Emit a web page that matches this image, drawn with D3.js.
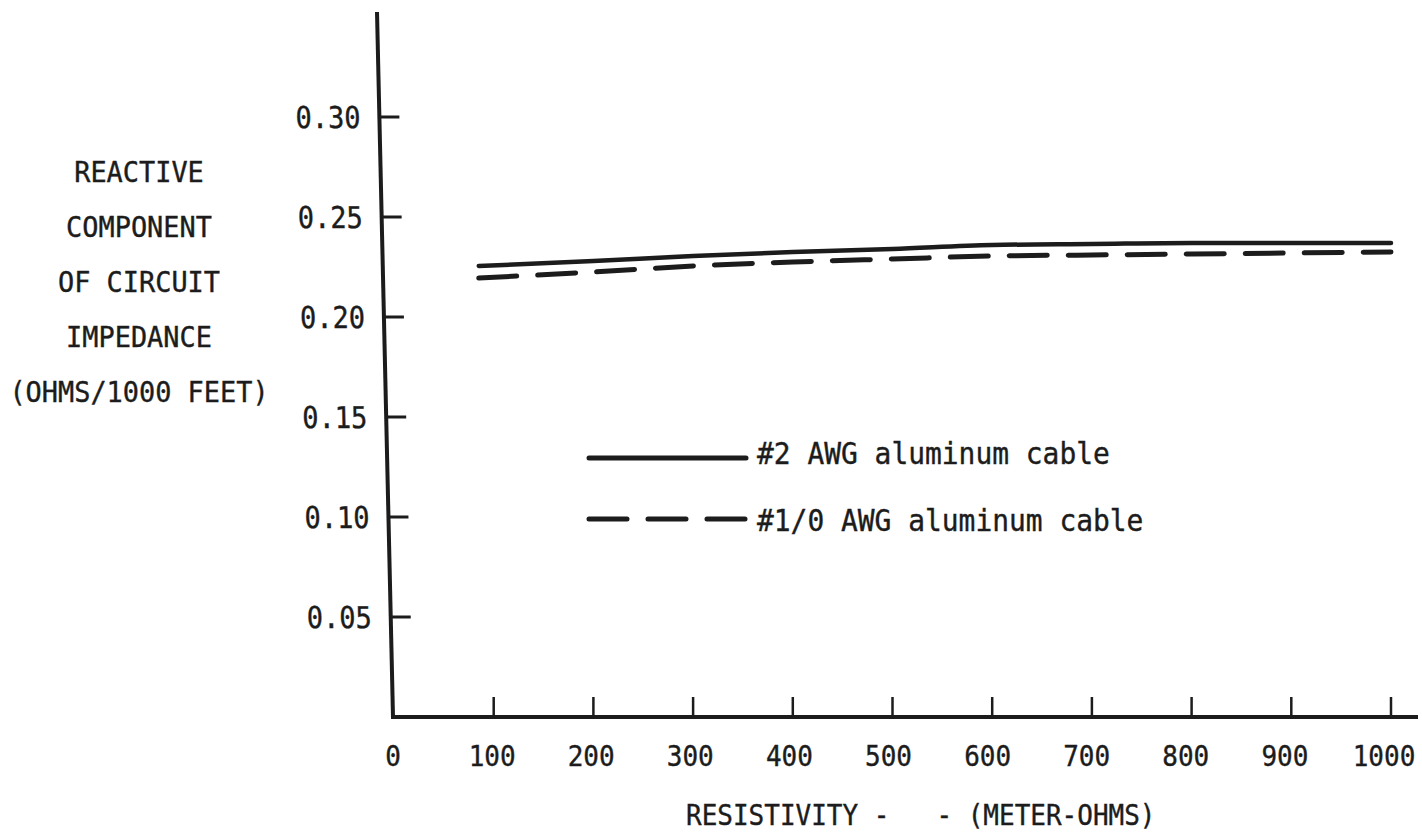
<!DOCTYPE html>
<html>
<head>
<meta charset="utf-8">
<script src="https://cdn.jsdelivr.net/npm/d3@7"></script>
<style>
body { margin: 0; background: #fff; }
text { font-family: "DejaVu Sans Mono", monospace; fill: #1c1c1c; stroke: #1c1c1c; stroke-width: 0.4; }
</style>
</head>
<body>
<div id="container"></div>
<script>
// values
let resistivity = [85, 200, 300, 400, 500, 600, 700, 800, 900, 1000];
let awg2 = [0.2255, 0.228, 0.2305, 0.2325, 0.234, 0.236, 0.2365, 0.237, 0.237, 0.237];
let awg10 = [0.2195, 0.2225, 0.2255, 0.2275, 0.229, 0.2305, 0.231, 0.2315, 0.232, 0.2325];

let xTicks = [0, 100, 200, 300, 400, 500, 600, 700, 800, 900, 1000];
let yTicks = [0.05, 0.10, 0.15, 0.20, 0.25, 0.30];
let yTitle = ["REACTIVE", "COMPONENT", "OF CIRCUIT", "IMPEDANCE", "(OHMS/1000 FEET)"];
let xTitle = "RESISTIVITY -   - (METER-OHMS)";
let seriesNames = ["#2 AWG aluminum cable", "#1/0 AWG aluminum cable"];

const width = 1422;
const height = 835;
const ink = "#1c1c1c";

let svg = d3.select("#container").append("svg")
	.attr("width", width)
	.attr("height", height);

// typewriter text is taller than it is wide, squeeze the mono font to the cell width
function typed(sel, size, cell){
	sel.attr("font-size", size)
		.attr("textLength", d => String(d).length * cell)
		.attr("lengthAdjust", "spacingAndGlyphs");
}

let x = d3.scaleLinear().domain([0, 1000]).range([394, 1391]);
// typed labels sit a touch left of their ticks
let xLabel = d3.scaleLinear().domain([0, 1000]).range([393, 1384]);
let y = d3.scaleLinear().domain([0, 0.30]).range([717, 117]);

// the scan leans a little, so the y axis is skewed about the origin
let yAxis = svg.append("g")
	.attr("transform", "translate(393,717) skewX(1.3) translate(0,-717)");

yAxis.append("line")
	.attr("x1", 0).attr("x2", 0)
	.attr("y1", y(0.3525)).attr("y2", y(0) + 2)
	.attr("stroke", ink).attr("stroke-width", 4);

yAxis.selectAll(".ytick").data(yTicks).join("line")
	.attr("x1", 0).attr("x2", 20)
	.attr("y1", d => y(d)).attr("y2", d => y(d))
	.attr("stroke", ink).attr("stroke-width", 3);

yAxis.selectAll(".ylab").data(yTicks.map(d3.format(".2f"))).join("text")
	.attr("x", -19)
	.attr("y", (d, i) => y(yTicks[i]))
	.attr("dy", "0.36em")
	.attr("text-anchor", "end")
	.text(d => d)
	.call(typed, 30, 16.25);

// x axis
svg.append("line")
	.attr("x1", 391).attr("x2", 1418)
	.attr("y1", y(0)).attr("y2", y(0))
	.attr("stroke", ink).attr("stroke-width", 4);

svg.selectAll(".xtick").data(xTicks.slice(1)).join("line")
	.attr("x1", d => x(d)).attr("x2", d => x(d))
	.attr("y1", y(0)).attr("y2", y(0) - 20)
	.attr("stroke", ink).attr("stroke-width", 2.5);

svg.selectAll(".xlab").data(xTicks).join("text")
	.attr("x", d => xLabel(d))
	.attr("y", 756)
	.attr("dy", "0.36em")
	.attr("text-anchor", "middle")
	.text(d => d)
	.call(typed, 29, 15.65);

svg.selectAll(".xtitle").data([xTitle]).join("text")
	.attr("x", 686)
	.attr("y", 815)
	.attr("dy", "0.36em")
	.style("white-space", "pre")
	.text(d => d)
	.call(typed, 29, 15.65);

svg.selectAll(".ytitle").data(yTitle).join("text")
	.attr("x", 139)
	.attr("y", (d, i) => 172 + i * 55)
	.attr("dy", "0.36em")
	.attr("text-anchor", "middle")
	.text(d => d)
	.call(typed, 29, 16.2);

// the two cable curves
let line = d3.line()
	.x((d, i) => x(resistivity[i]))
	.y(d => y(d))
	.curve(d3.curveMonotoneX);

svg.append("path")
	.attr("d", line(awg2))
	.attr("fill", "none")
	.attr("stroke", ink)
	.attr("stroke-width", 4.5)
	.attr("stroke-linecap", "round");

svg.append("path")
	.attr("d", line(awg10))
	.attr("fill", "none")
	.attr("stroke", ink)
	.attr("stroke-width", 5)
	.attr("stroke-dasharray", "38,21")
	.attr("stroke-linecap", "round");

// legend
let legend = svg.append("g");
let dashes = [null, "38,21"];
legend.selectAll("line").data(seriesNames).join("line")
	.attr("x1", 589).attr("x2", 746)
	.attr("y1", (d, i) => 458 + i * 61).attr("y2", (d, i) => 458 + i * 61)
	.attr("stroke", ink)
	.attr("stroke-width", 5)
	.attr("stroke-linecap", "round")
	.attr("stroke-dasharray", (d, i) => dashes[i]);

legend.selectAll("text").data(seriesNames).join("text")
	.attr("x", 757)
	.attr("y", (d, i) => 453 + i * 67)
	.attr("dy", "0.36em")
	.text(d => d)
	.call(typed, 30, 16.8);
</script>
</body>
</html>
